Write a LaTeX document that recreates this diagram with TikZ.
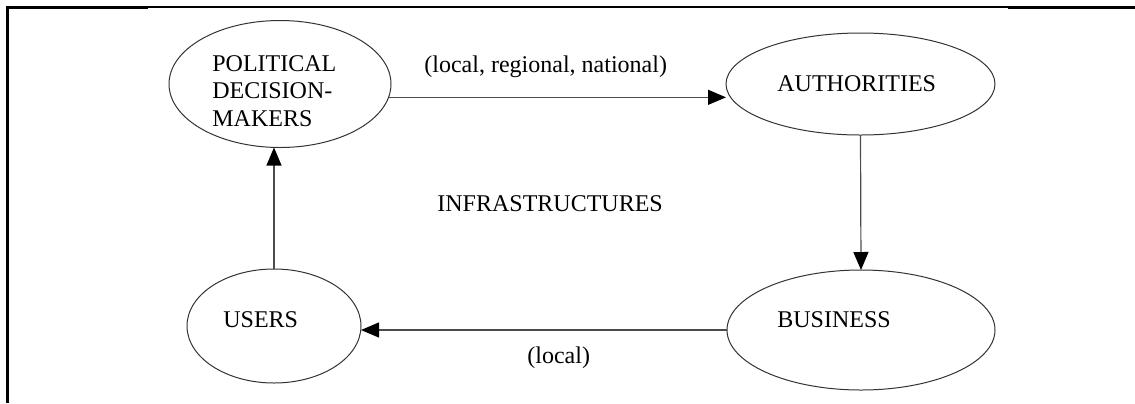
\documentclass[tikz,border=0pt]{standalone}
\usepackage{fontspec}
\setmainfont{Liberation Serif}
\usetikzlibrary{shapes.geometric,arrows.meta}
\begin{document}
\begin{tikzpicture}[x=0.5pt,y=-0.5pt,
  every node/.style={font=\fontsize{12}{13.75}\selectfont, inner sep=0pt},
  oval/.style={ellipse, draw=black!80, line width=0.5pt, outer sep=0pt, inner sep=0pt},
  lbl/.style={anchor=base west, text=black},
  flow/.style={draw=black!70, line width=0.6pt, -{Triangle[length=9pt,width=7.5pt,black]}},
  frameheavy/.style={line width=1.5pt, black},
  framelight/.style={line width=0.75pt, black}]
\useasboundingbox (0,0) rectangle (1135,403);

% page frame
\draw[frameheavy] (7.5,403) -- (7.5,7.5) -- (148,7.5);
\draw[framelight] (148,7) -- (1008,7);
\draw[frameheavy] (1008,7.5) -- (1135,7.5);

% actors
\node[oval, minimum width=111pt, minimum height=63.5pt] (pol)  at (280,84)   {};
\node[oval, minimum width=134.5pt, minimum height=51pt] (auth) at (860.5,84) {};
\node[oval, minimum width=87pt, minimum height=57pt]   (usr)  at (274,326)  {};
\node[oval, minimum width=134pt, minimum height=60pt]  (bus)  at (861,330)  {};

% labels inside the ovals
\node[anchor=north west, align=left] (poltxt) at (212,55) {POLITICAL\\DECISION-\\MAKERS};
\node[lbl] (authtxt) at (777,91)  {AUTHORITIES};
\node[lbl] (usrtxt)  at (223,327) {USERS};
\node[lbl] (bustxt)  at (777,327) {BUSINESS};

% free labels
\node[lbl] (infra)  at (437,211) {INFRASTRUCTURES};
\node[lbl] (levels) at (424,72)  {(local, regional, national)};
\node[lbl] (loc)    at (527,363) {(local)};

% cycle of influence
\draw[flow] (pol.-7) -- (pol.-7 -| auth.west);
\draw[flow] (auth.south) -- (bus.north);
\draw[flow] (bus.west) -- (bus.west -| usr.east);
\draw[flow] (usr.north) -- (usr.north |- pol.south);
\end{tikzpicture}
\end{document}
